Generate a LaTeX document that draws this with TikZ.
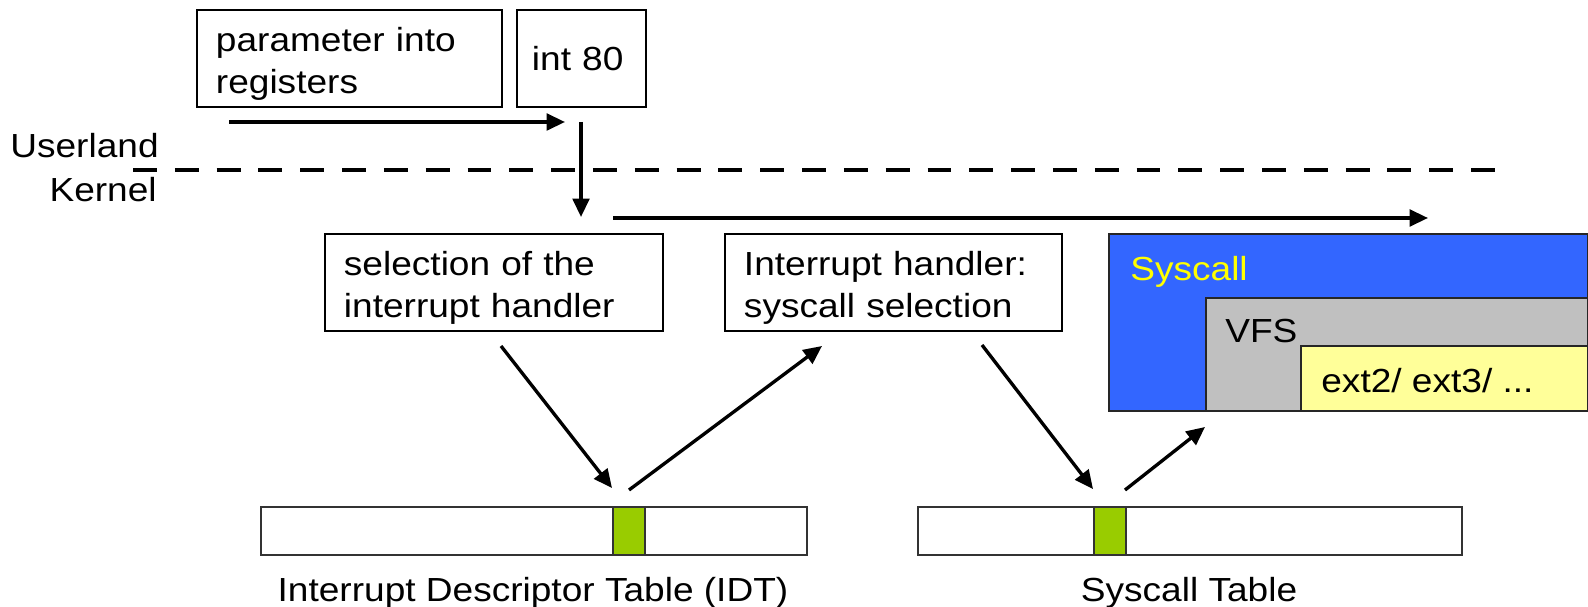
\documentclass[tikz,border=0pt]{standalone}
\usepackage{fontspec}
\setmainfont[FakeStretch=1.11]{Liberation Sans}
\usetikzlibrary{arrows.meta}
\definecolor{syscallblue}{HTML}{3366FF}
\definecolor{vfsgray}{HTML}{C0C0C0}
\definecolor{extyellow}{HTML}{FFFF99}
\definecolor{syscallname}{HTML}{FFFF00}
\definecolor{entrygreen}{HTML}{99CC00}

\begin{document}
\begin{tikzpicture}[x=0.02cm,y=-0.02cm,
    every node/.style={font=\fontsize{19}{24}\selectfont},
    box/.style={draw,line width=1.1pt,anchor=north west,align=left,inner xsep=0.38cm,inner ysep=0pt,minimum height=1.94cm},
    twoline/.style={text height=19.5pt},
    flow/.style={-{Triangle[length=10.5pt,width=9.5pt]},line width=1.9pt},
    layer/.style={draw=black!85,line width=1.1pt,anchor=north west,inner sep=0pt},
    tablebar/.style={draw=black!80,line width=1.1pt,fill=white,anchor=north west,inner sep=0pt,minimum height=0.96cm},
    entry/.style={draw=black!80,line width=1.1pt,fill=entrygreen,anchor=north west,inner sep=0pt,minimum width=0.64cm,minimum height=0.96cm},
    lbl/.style={inner sep=0pt}]
    \useasboundingbox (0,0) rectangle (1588,607);
    % userland
    \node[box,twoline,text width=5.34cm] (param) at (196,9) {parameter into\\registers};
    \node[box,inner xsep=0.3cm,text width=1.98cm] (int) at (516,9) {int 80};
    \draw[line width=2.8pt,dash pattern=on 13.6pt off 10.2pt] (133,170) coordinate (border w) -- (1499,170) coordinate (border e);
    \node[lbl,anchor=base east] (userland) at (159,158) {Userland};
    \node[lbl,anchor=base east] (kernel) at (157,202) {Kernel};
    % kernel
    \node[box,twoline,text width=6cm] (select) at (324,233) {selection of the\\interrupt handler};
    \node[box,twoline,text width=5.98cm] (handler) at (724,233) {Interrupt handler:\\syscall selection};
    \node[layer,fill=syscallblue,minimum width=9.58cm,minimum height=3.54cm] (syscall) at (1108,233) {};
    \node[layer,fill=vfsgray,minimum width=7.64cm,minimum height=2.26cm] (vfs) at (1205,297) {};
    \node[layer,fill=extyellow,minimum width=5.74cm,minimum height=1.30cm] (ext) at (1300,345) {};
    \node[lbl,anchor=base west,text=syscallname] (syscall name) at (1130,281) {Syscall};
    \node[lbl,anchor=base west] (vfs name) at (1225,343) {VFS};
    \node[lbl,anchor=base west] (ext name) at (1321,393) {ext2/ ext3/ ...};
    % tables
    \node[tablebar,minimum width=10.92cm] (idt) at (260,506) {};
    \node[entry] (idt entry) at (612,506) {};
    \node[tablebar,minimum width=10.88cm] (systab) at (917,506) {};
    \node[entry] (systab entry) at (1093,506) {};
    \node[lbl,anchor=base] (idt name) at (533,601) {Interrupt Descriptor Table (IDT)};
    \node[lbl,anchor=base] (systab name) at (1189,601) {Syscall Table};
    % arrows
    \coordinate (a1) at (229,122); \coordinate (a2) at (565,122);
    \coordinate (b1) at (581,122); \coordinate (b2) at (581,217);
    \coordinate (c1) at (613,218); \coordinate (c2) at (1428,218);
    \coordinate (d1) at (501,346); \coordinate (d2) at (612,488);
    \coordinate (e1) at (629,490); \coordinate (e2) at (822,346);
    \coordinate (f1) at (982,345); \coordinate (f2) at (1093,489);
    \coordinate (g1) at (1125,490); \coordinate (g2) at (1205,427);
    \draw[flow] (a1) -- (a2);
    \draw[flow] (b1) -- (b2);
    \draw[flow] (c1) -- (c2);
    \draw[flow] (d1) -- (d2);
    \draw[flow] (e1) -- (e2);
    \draw[flow] (f1) -- (f2);
    \draw[flow] (g1) -- (g2);
\end{tikzpicture}
\end{document}
